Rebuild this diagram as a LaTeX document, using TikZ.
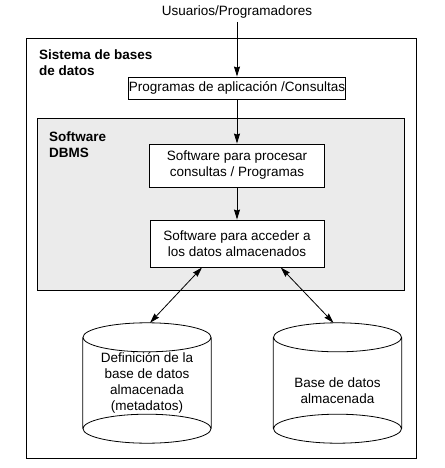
\documentclass[tikz,border=0pt]{standalone}
\usepackage{fontspec}
\setmainfont{Liberation Sans}
\usetikzlibrary{arrows.meta,calc}
\newcommand\diafont{\fontsize{13.5}{16}\selectfont}
\tikzset{
  box/.style={draw,fill=white,line width=0.9pt,align=center,inner sep=0pt,font=\diafont},
  dbnode/.style={minimum width=128pt,minimum height=120pt,inner sep=0pt},
  dbtext/.style={align=center,inner sep=0pt,font=\diafont},
  head/.style={font=\diafont\bfseries,align=left,anchor=north west,inner sep=0pt},
  conn/.style={line width=0.8pt,-{Stealth[length=10pt,width=6pt,inset=1pt]}},
  dconn/.style={line width=0.8pt,{Stealth[length=10pt,width=6pt,inset=1pt]}-{Stealth[length=10pt,width=6pt,inset=1pt]}}
}
\begin{document}
\begin{tikzpicture}[x=1pt,y=-1pt]
\useasboundingbox (0,0) rectangle (444,468);
\draw[line width=0.7pt] (26,38) rectangle (416,458);
\draw[line width=0.9pt,fill=black!8] (37,118) rectangle (404,290);
\node[head] (sys) at (39,50) {Sistema de bases\\de datos};
\node[head] (dbms) at (49,132) {Software\\DBMS};
\node[font=\diafont] (users) at (237,12) {Usuarios/Programadores};
\node[box,minimum width=217pt,minimum height=22pt] (app) at (237,88) {Programas de aplicación /Consultas};
\node[box,minimum width=175pt,minimum height=43pt] (proc) at (237,165.5) {Software para procesar\\consultas / Programas};
\node[box,minimum width=174pt,minimum height=47pt] (acc) at (237,243.5) {Software para acceder a\\los datos almacenados};
\node[dbnode] (defdb) at (147,383) {};
\node[dbnode] (db) at (337.5,383) {};
\node[dbtext] (deftxt) at (147,382.5) {Definición de la\\base de datos\\almacenada\\(metadatos)};
\node[dbtext] (dbtxt) at (337.5,391) {Base de datos\\almacenada};
\foreach \n in {defdb,db}{
\draw[line width=0.8pt] ($(\n.north)+(0,14.5)$) ellipse [x radius=64pt,y radius=14.5pt]
  ($(\n.south)-(0,14.5)$) ellipse [x radius=64pt,y radius=14.5pt]
  ($(\n.north west)+(0,14.5)$) -- ($(\n.south west)-(0,14.5)$)
  ($(\n.north east)+(0,14.5)$) -- ($(\n.south east)-(0,14.5)$);
}
\draw[conn] (users) -- (app);
\draw[conn] (app) -- (proc);
\draw[conn] (proc) -- (acc);
\draw[dconn] ($(acc.south west)!0.3!(acc.south east)$) -- ($(defdb.north)+(3,0)$);
\draw[dconn] ($(acc.south west)!0.75!(acc.south east)$) -- ($(db.north)+(-4,0)$);
\end{tikzpicture}
\end{document}
